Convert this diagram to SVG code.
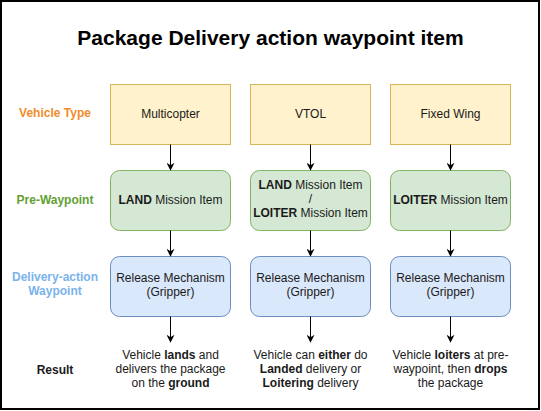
<svg xmlns="http://www.w3.org/2000/svg" width="541" height="411" viewBox="0 0 541 411">
<defs>
<marker id="arr" viewBox="0 0 10 10" refX="9" refY="5" markerWidth="8" markerHeight="8" markerUnits="userSpaceOnUse" orient="auto">
<path d="M0,0 L10,5 L0,10 L3,5 Z" fill="#000"/>
</marker>
</defs>
<style>
text{font-family:"Liberation Sans",Arial,sans-serif;font-size:12px;fill:#1a1a1a;text-anchor:middle}
.b{font-weight:bold}
.title{font-size:21px;font-weight:bold;fill:#000}
.veh{fill:#fff2cc;stroke:#d6b656}
.pre{fill:#d5e8d4;stroke:#82b366}
.del{fill:#dae8fc;stroke:#6c8ebf}
.edge{stroke:#000;stroke-width:1;fill:none;marker-end:url(#arr)}
</style>
<rect x="0" y="0" width="541" height="411" fill="#fff"/>
<rect x="1" y="1" width="538" height="408" fill="none" stroke="#000" stroke-width="2"/>
<text class="title" x="270.5" y="45">Package Delivery action waypoint item</text>
<g id="labels">
<text class="b" x="55" y="117" style="fill:#F08C2A">Vehicle Type</text>
<text class="b" x="55" y="204" style="fill:#62A033">Pre-Waypoint</text>
<text class="b" x="55" y="281" style="fill:#7AB3EC">Delivery-action</text>
<text class="b" x="55" y="295" style="fill:#7AB3EC">Waypoint</text>
<text class="b" x="55" y="374">Result</text>
</g>
<g id="multicopter"><rect class="veh" x="110.5" y="84.5" width="120" height="60"/><text x="170.5" y="118">Multicopter</text></g>
<g id="vtol"><rect class="veh" x="250.5" y="84.5" width="120" height="60"/><text x="310.5" y="118">VTOL</text></g>
<g id="fixedwing"><rect class="veh" x="390.5" y="84.5" width="120" height="60"/><text x="450.5" y="118">Fixed Wing</text></g>
<g id="pre1"><rect class="pre" x="110.5" y="170.5" width="120" height="60" rx="9"/><text x="170.5" y="204"><tspan class="b">LAND</tspan> Mission Item</text></g>
<g id="pre2"><rect class="pre" x="250.5" y="170.5" width="120" height="60" rx="9"/>
<text x="310.5" y="189"><tspan class="b">LAND</tspan> Mission Item</text>
<text x="310.5" y="203">/</text>
<text x="310.5" y="217"><tspan class="b">LOITER</tspan> Mission Item</text></g>
<g id="pre3"><rect class="pre" x="390.5" y="170.5" width="120" height="60" rx="9"/><text x="450.5" y="204"><tspan class="b">LOITER</tspan> Mission Item</text></g>
<g id="del1"><rect class="del" x="110.5" y="256.5" width="120" height="60" rx="9"/><text x="170.5" y="282">Release Mechanism</text><text x="170.5" y="296">(Gripper)</text></g>
<g id="del2"><rect class="del" x="250.5" y="256.5" width="120" height="60" rx="9"/><text x="310.5" y="282">Release Mechanism</text><text x="310.5" y="296">(Gripper)</text></g>
<g id="del3"><rect class="del" x="390.5" y="256.5" width="120" height="60" rx="9"/><text x="450.5" y="282">Release Mechanism</text><text x="450.5" y="296">(Gripper)</text></g>
<g id="res1">
<text x="170.5" y="359">Vehicle <tspan class="b">lands</tspan> and</text>
<text x="170.5" y="373">delivers the package</text>
<text x="170.5" y="387">on the <tspan class="b">ground</tspan></text></g>
<g id="res2">
<text x="310.5" y="359">Vehicle can <tspan class="b">either</tspan> do</text>
<text x="310.5" y="373"><tspan class="b">Landed</tspan> delivery or</text>
<text x="310.5" y="387"><tspan class="b">Loitering</tspan> delivery</text></g>
<g id="res3">
<text x="450.5" y="359">Vehicle <tspan class="b">loiters</tspan> at pre-</text>
<text x="450.5" y="373">waypoint, then <tspan class="b">drops</tspan></text>
<text x="450.5" y="387">the package</text></g>
<g id="connectors">
<path class="edge" d="M170.5,144.5 V170"/>
<path class="edge" d="M310.5,144.5 V170"/>
<path class="edge" d="M450.5,144.5 V170"/>
<path class="edge" d="M170.5,230.5 V256"/>
<path class="edge" d="M310.5,230.5 V256"/>
<path class="edge" d="M450.5,230.5 V256"/>
<path class="edge" d="M170.5,316.5 V342"/>
<path class="edge" d="M310.5,316.5 V342"/>
<path class="edge" d="M450.5,316.5 V342"/>
</g>
</svg>
